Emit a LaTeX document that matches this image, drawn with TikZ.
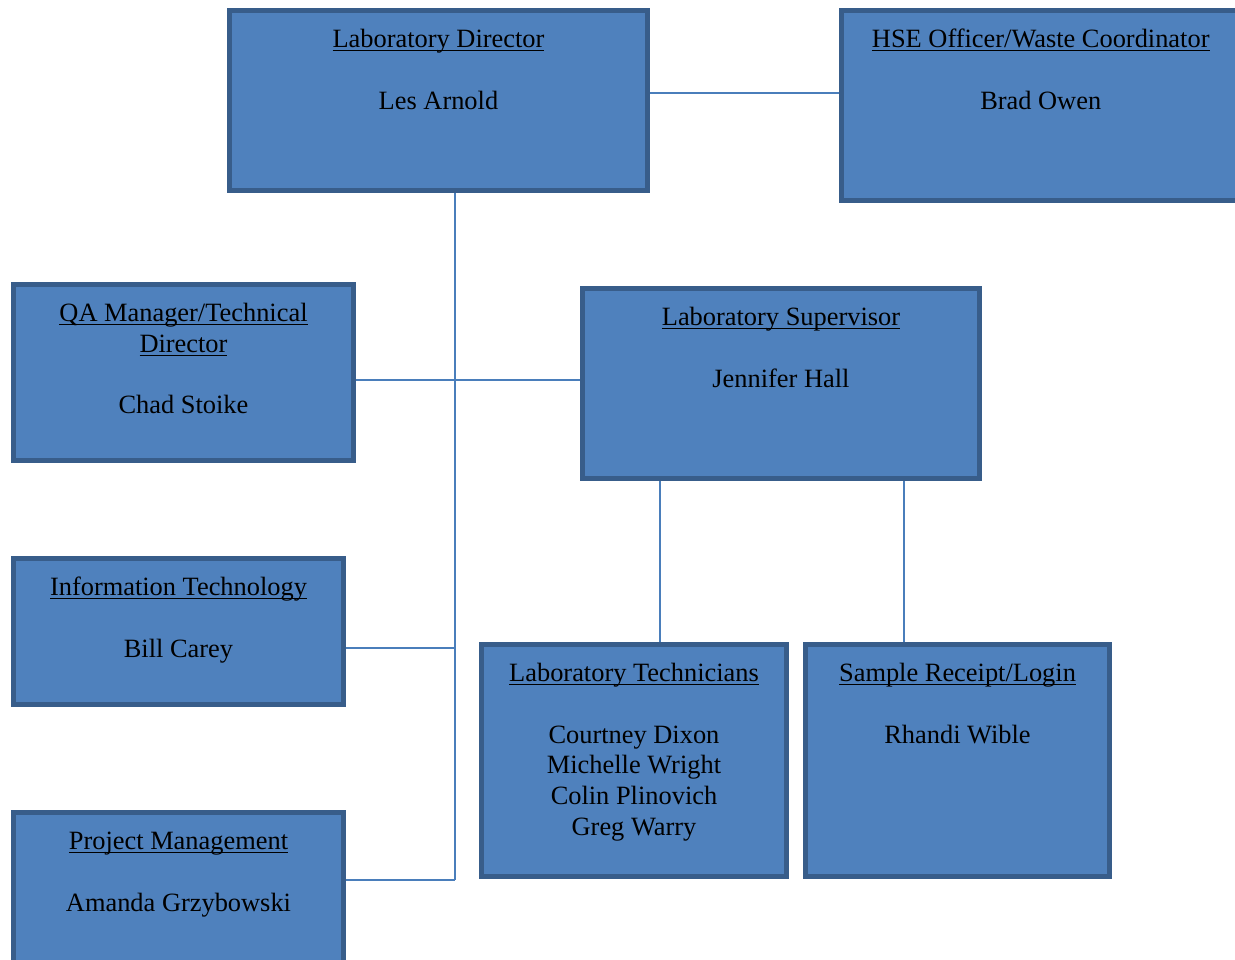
\documentclass[tikz,border=0pt]{standalone}
\usepackage{fontspec}
\setmainfont{Liberation Serif}
\usetikzlibrary{fit}
\definecolor{boxfill}{HTML}{4F81BD}
\definecolor{boxline}{HTML}{385D8A}
\definecolor{linkline}{HTML}{4A7EBB}
% underlined unit heading, rule at a fixed depth below the baseline
\newsavebox{\headbox}
\newcommand{\heading}[1]{%
  \strut\sbox{\headbox}{#1}%
  \rlap{\rule[-3.8pt]{\wd\headbox}{1.6pt}}\usebox{\headbox}}
\tikzset{
  unit box/.style={
    rectangle,
    draw=boxline,
    fill=boxfill,
    line width=5pt,
    inner sep=0pt
  },
  unit text/.style={
    anchor=north,
    align=center,
    inner sep=0pt,
    font=\fontsize{26.4}{30.7}\selectfont
  },
  link/.style={
    draw=linkline,
    line width=2pt
  }
}

\begin{document}
\begin{tikzpicture}[x=1pt, y=-1pt]
    \useasboundingbox (0,0) rectangle (1235,960);
    \clip (0,0) rectangle (1235,960);

    % boxes (corners of the border path)
    \node[unit box, fit={(229.5,10.5) (647.5,190.5)}] (dir) {};
    \node[unit box, fit={(841.5,10.5) (1240,200.5)}] (hse) {};
    \node[unit box, fit={(13.5,284.5) (353.5,460.5)}] (qa) {};
    \node[unit box, fit={(582.5,288.5) (979.5,478.5)}] (sup) {};
    \node[unit box, fit={(13.5,558.5) (343.5,704.5)}] (it) {};
    \node[unit box, fit={(13.5,812.5) (343.5,962)}] (pm) {};
    \node[unit box, fit={(481.5,644.5) (786.5,876.5)}] (tech) {};
    \node[unit box, fit={(805.5,644.5) (1109.5,876.5)}] (sample) {};

    % titles and names (first baseline about 39pt below the box top)
    \node[unit text] (dir text) at ([yshift=-18pt]dir.north)
      {\heading{Laboratory Director}\\[30.7pt]Les Arnold};
    \node[unit text] (hse text) at ([yshift=-18pt]hse.north)
      {\heading{HSE Officer/Waste Coordinator}\\[30.7pt]Brad Owen};
    \node[unit text] (qa text) at ([yshift=-18pt]qa.north)
      {\heading{QA Manager/Technical}\\\heading{Director}\\[30.7pt]Chad Stoike};
    \node[unit text] (sup text) at ([yshift=-18pt]sup.north)
      {\heading{Laboratory Supervisor}\\[30.7pt]Jennifer Hall};
    \node[unit text] (it text) at ([yshift=-18pt]it.north)
      {\heading{Information Technology}\\[30.7pt]Bill Carey};
    \node[unit text] (pm text) at ([yshift=-18pt]pm.north)
      {\heading{Project Management}\\[30.7pt]Amanda Grzybowski};
    \node[unit text] (tech text) at ([yshift=-18pt]tech.north)
      {\heading{Laboratory Technicians}\\[30.7pt]Courtney Dixon\\Michelle Wright\\Colin Plinovich\\Greg Warry};
    \node[unit text] (sample text) at ([yshift=-18pt]sample.north)
      {\heading{Sample Receipt/Login}\\[30.7pt]Rhandi Wible};

    % reporting lines
    \coordinate (trunk) at (455,880);
    \draw[link] (dir.east |- 0,93) -- (hse.west |- 0,93);
    \draw[link] (dir.south -| trunk) -- (trunk);
    \draw[link] (qa.east |- 0,380) -- (sup.west |- 0,380);
    \draw[link] (it.east |- 0,648) -- (trunk |- 0,648);
    \draw[link] (pm.east |- trunk) -- (trunk);
    \draw[link] (sup.south -| 660,0) -- (tech.north -| 660,0);
    \draw[link] (sup.south -| 904,0) -- (sample.north -| 904,0);
\end{tikzpicture}
\end{document}
